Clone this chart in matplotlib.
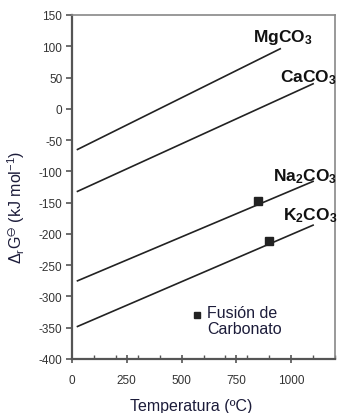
import matplotlib.pyplot as plt

# data
COMPOUNDS = ['MgCO$_3$', 'CaCO$_3$', 'Na$_2$CO$_3$', 'K$_2$CO$_3$']
T_START = [25, 25, 25, 25]
T_END = [950, 1100, 1100, 1100]
G_START = [-65, -132, -275, -348]
G_END = [96, 40, -116, -186]
LABEL_T = [960, 1077, 1063, 1088]
LABEL_G = [115, 51, -107, -170]
MELT_T = [850, 900]
MELT_G = [-148, -212]
XTICKS = [0, 250, 500, 750, 1000]
YTICKS = list(range(-400, 151, 50))

plt.rcParams.update({'font.family': 'Liberation Sans',
                     'axes.unicode_minus': False,
                     'mathtext.fontset': 'custom',
                     'mathtext.rm': 'Liberation Sans',
                     'mathtext.it': 'Liberation Sans:italic',
                     'mathtext.bf': 'Liberation Sans:bold',
                     'mathtext.default': 'regular'})

TXT = '#1c1c3a'
TICK = '#333333'

fig = plt.figure(figsize=(3.37, 4.14), dpi=100)
ax = fig.add_axes([72/337, 54/414, 263/337, 344/414])

for i in range(len(COMPOUNDS)):
    ax.plot([T_START[i], T_END[i]], [G_START[i], G_END[i]], color='#222222', lw=1.2)
    ax.text(LABEL_T[i], LABEL_G[i], COMPOUNDS[i], fontsize=12.5, fontweight='bold',
            ha='center', va='center', color='#111111', clip_on=False)

ax.plot(MELT_T, MELT_G, ls='none', marker='s', ms=6, color='#222222')

# legend
ax.plot([570], [-330], ls='none', marker='s', ms=4.5, color='#222222')
ax.text(618, -314, 'Fusión de\nCarbonato', fontsize=11.5, color=TXT,
        ha='left', va='top', linespacing=1.05)

ax.set_xlim(0, 1200)
ax.set_ylim(-400, 150)
ax.set_xticks(XTICKS)
ax.set_xticks(range(0, 1201, 100), minor=True)
ax.set_yticks(YTICKS)
ax.tick_params(axis='x', which='major', direction='inout', length=6, width=1.2,
               colors='#555555', labelcolor=TICK, labelsize=8.5, pad=8)
ax.tick_params(axis='x', which='minor', direction='in', length=3, width=1,
               colors='#555555')
ax.tick_params(axis='y', direction='out', length=4, width=1.2,
               colors='#555555', labelcolor=TICK, labelsize=8.5, pad=3)

for s in ['left', 'bottom']:
    ax.spines[s].set_color('#555555')
    ax.spines[s].set_linewidth(1.6)
for s in ['top', 'right']:
    ax.spines[s].set_color('#888888')
    ax.spines[s].set_linewidth(1.2)

ax.set_xlabel('Temperatura (ºC)', fontsize=11.5, color=TXT)
ax.xaxis.set_label_coords((191-72)/263, -(399-360)/344)
ax.set_ylabel(r'$\Delta_r G^{\ominus}$ (kJ mol$^{-1}$)', fontsize=11.5, color=TXT)
ax.yaxis.set_label_coords(-(72-27)/263, (360-207)/344)

plt.savefig('out.png', dpi=100)
